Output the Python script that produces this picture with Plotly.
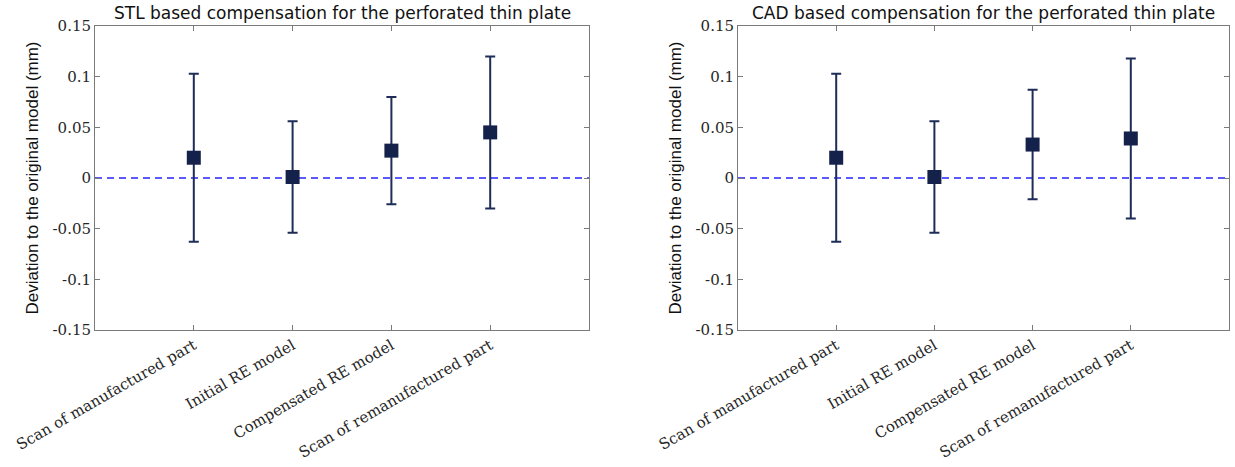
import plotly.graph_objects as go

categories = ["Scan of manufactured part", "Initial RE model",
              "Compensated RE model", "Scan of remanufactured part"]
x_pos = [1, 2, 3, 4]

stl_mean = [0.020, 0.001, 0.027, 0.045]
stl_err = [0.083, 0.055, 0.053, 0.075]

cad_mean = [0.020, 0.001, 0.033, 0.039]
cad_err = [0.083, 0.055, 0.054, 0.079]

y_ticks = [-0.15, -0.1, -0.05, 0, 0.05, 0.1, 0.15]
y_tick_text = ["-0.15", "-0.1", "-0.05", "0", "0.05", "0.1", "0.15"]

titles = ["STL based compensation for the perforated thin plate",
          "CAD based compensation for the perforated thin plate"]

MARKER = "#14214a"
ERR = "#1e2c58"
AXC = "#7a7a7a"
W, H = 1235, 467

fig = go.Figure()

domains_x = [[95 / W, 589 / W], [738 / W, 1229 / W]]
dom_y = [1 - 330 / H, 1 - 26 / H]

for i, (m, e) in enumerate([(stl_mean, stl_err), (cad_mean, cad_err)]):
    xa = "x" if i == 0 else "x2"
    ya = "y" if i == 0 else "y2"
    fig.add_trace(go.Scatter(
        x=x_pos, y=m, mode="markers", xaxis=xa, yaxis=ya,
        marker=dict(symbol="square", size=14, color=MARKER, line=dict(width=0)),
        error_y=dict(type="data", array=e, visible=True, color=ERR,
                     thickness=2, width=5),
        showlegend=False, hoverinfo="skip"))

axis_common = dict(showline=True, linecolor=AXC, linewidth=1, mirror="ticks",
                   ticks="inside", ticklen=5, tickcolor=AXC, showgrid=False,
                   zeroline=False, automargin=False)

tick_font = dict(family="DejaVu Serif", size=15, color="#262626")

for i in range(2):
    sx = "" if i == 0 else "2"
    fig.update_layout(**{
        f"xaxis{sx}": dict(domain=domains_x[i], range=[0, 5], tickmode="array",
                           tickvals=x_pos, ticktext=categories, tickangle=-30,
                           tickfont=tick_font, anchor=f"y{sx}", **axis_common),
        f"yaxis{sx}": dict(domain=dom_y, range=[-0.15, 0.15], tickmode="array",
                           tickvals=y_ticks, ticktext=y_tick_text,
                           tickfont=tick_font,
                           title=dict(text="Deviation to the original model (mm)",
                                      font=dict(family="Liberation Sans", size=17, color="#111111"),
                                      standoff=9),
                           anchor=f"x{sx}", **axis_common),
    })
    fig.add_shape(type="line", xref=f"x{sx} domain", yref=f"y{sx}", x0=0, x1=1, y0=0, y1=0,
                  line=dict(color="#2424ff", width=1.5, dash="7px,5px"), layer="below")
    fig.add_annotation(text=titles[i], xref="paper", yref="paper",
                       x=(domains_x[i][0] + domains_x[i][1]) / 2, y=dom_y[1],
                       xanchor="center", yanchor="bottom", yshift=1, showarrow=False,
                       font=dict(family="DejaVu Sans", size=17, color="#111111"))

fig.update_layout(width=W, height=H, margin=dict(l=0, r=0, t=0, b=0),
                  paper_bgcolor="white", plot_bgcolor="white")

fig.write_html("out.html")
